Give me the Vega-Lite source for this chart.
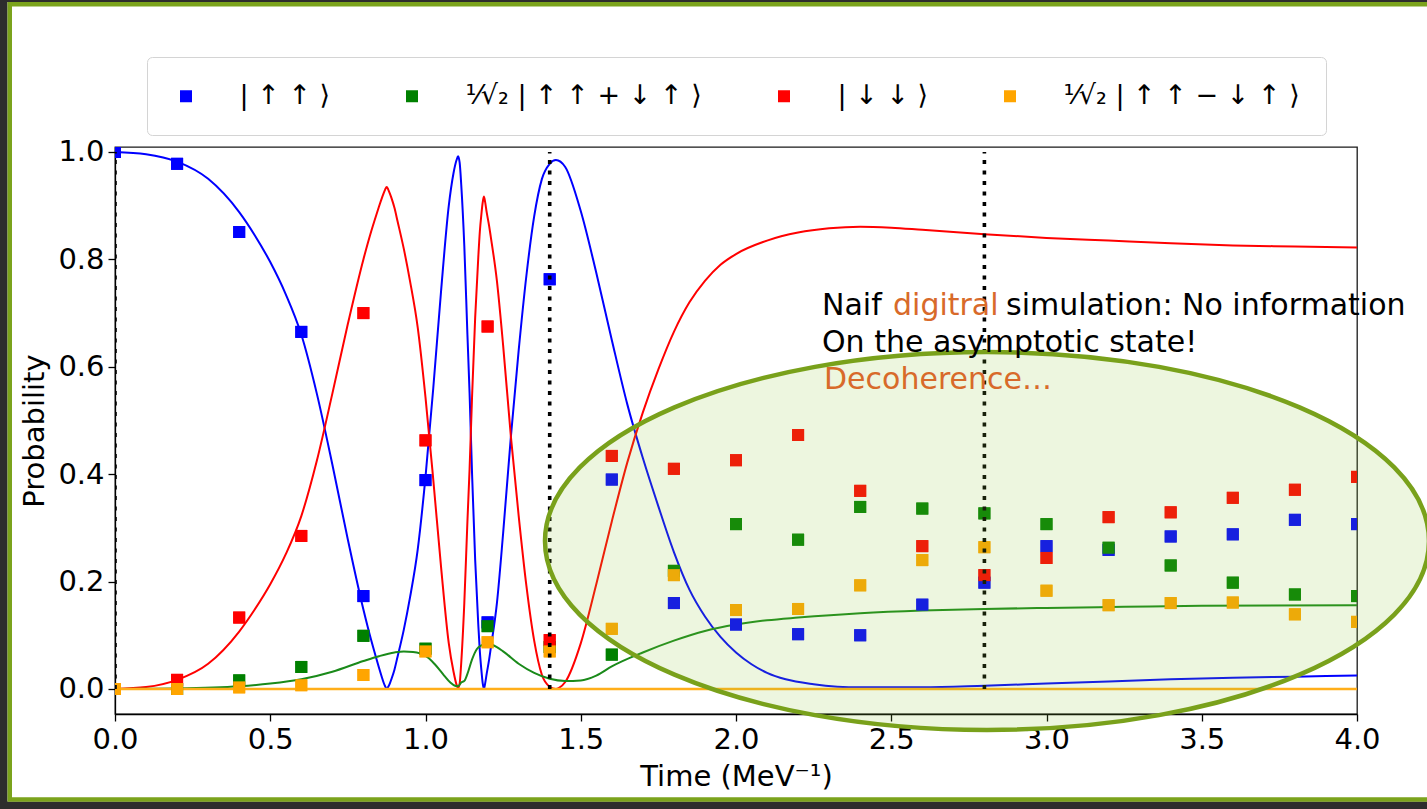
{
  "$schema": "https://vega.github.io/schema/vega-lite/v6.json",
  "width": 1242,
  "height": 567,
  "autosize": {"type": "none"},
  "padding": {"left": 115, "top": 147, "right": 70, "bottom": 95},
  "background": "white",
  "config": {
    "font": "DejaVu Sans",
    "view": {"stroke": "#1a1a1a", "strokeWidth": 1.3},
    "axis": {
      "labelFont": "DejaVu Sans", "labelFontSize": 29, "labelColor": "black",
      "titleFont": "DejaVu Sans", "titleFontSize": 29, "titleFontWeight": "normal", "titleColor": "black",
      "tickColor": "black", "tickSize": 7, "tickWidth": 1.3,
      "domainColor": "black", "domainWidth": 1.3, "grid": false,
      "labelPadding": 4, "titlePadding": 8, "labelFlush": false, "labelOverlap": false
    },
    "legend": {"layout": {"top": {"anchor": "middle"}}}
  },
  "datasets": {
    "curves": [
      {"t":0,"p":1.0,"state":"uu"},{"t":0.1,"p":0.996,"state":"uu"},{"t":0.2,"p":0.982,"state":"uu"},{"t":0.3,"p":0.95,"state":"uu"},{"t":0.4,"p":0.888,"state":"uu"},{"t":0.45,"p":0.845,"state":"uu"},{"t":0.5,"p":0.795,"state":"uu"},{"t":0.55,"p":0.735,"state":"uu"},{"t":0.6,"p":0.66,"state":"uu"},{"t":0.65,"p":0.55,"state":"uu"},{"t":0.7,"p":0.418,"state":"uu"},{"t":0.75,"p":0.278,"state":"uu"},{"t":0.8,"p":0.148,"state":"uu"},{"t":0.825,"p":0.091,"state":"uu"},{"t":0.84,"p":0.06,"state":"uu"},{"t":0.85,"p":0.04,"state":"uu"},{"t":0.86,"p":0.021,"state":"uu"},{"t":0.865,"p":0.012,"state":"uu"},{"t":0.87,"p":0.005,"state":"uu"},{"t":0.875,"p":0.0,"state":"uu"},{"t":0.88,"p":0.004,"state":"uu"},{"t":0.885,"p":0.01,"state":"uu"},{"t":0.89,"p":0.018,"state":"uu"},{"t":0.9,"p":0.036,"state":"uu"},{"t":0.91,"p":0.06,"state":"uu"},{"t":0.93,"p":0.11,"state":"uu"},{"t":0.95,"p":0.17,"state":"uu"},{"t":0.975,"p":0.26,"state":"uu"},{"t":1.0,"p":0.395,"state":"uu"},{"t":1.025,"p":0.56,"state":"uu"},{"t":1.05,"p":0.74,"state":"uu"},{"t":1.075,"p":0.9,"state":"uu"},{"t":1.09,"p":0.96,"state":"uu"},{"t":1.1,"p":0.985,"state":"uu"},{"t":1.105,"p":0.992,"state":"uu"},{"t":1.11,"p":0.98,"state":"uu"},{"t":1.115,"p":0.94,"state":"uu"},{"t":1.125,"p":0.825,"state":"uu"},{"t":1.135,"p":0.66,"state":"uu"},{"t":1.142,"p":0.55,"state":"uu"},{"t":1.15,"p":0.4,"state":"uu"},{"t":1.16,"p":0.24,"state":"uu"},{"t":1.17,"p":0.12,"state":"uu"},{"t":1.175,"p":0.07,"state":"uu"},{"t":1.18,"p":0.035,"state":"uu"},{"t":1.184,"p":0.012,"state":"uu"},{"t":1.188,"p":0.0,"state":"uu"},{"t":1.192,"p":0.01,"state":"uu"},{"t":1.197,"p":0.028,"state":"uu"},{"t":1.205,"p":0.055,"state":"uu"},{"t":1.21,"p":0.075,"state":"uu"},{"t":1.23,"p":0.16,"state":"uu"},{"t":1.25,"p":0.29,"state":"uu"},{"t":1.275,"p":0.47,"state":"uu"},{"t":1.3,"p":0.63,"state":"uu"},{"t":1.325,"p":0.77,"state":"uu"},{"t":1.35,"p":0.88,"state":"uu"},{"t":1.375,"p":0.95,"state":"uu"},{"t":1.4,"p":0.978,"state":"uu"},{"t":1.42,"p":0.985,"state":"uu"},{"t":1.45,"p":0.972,"state":"uu"},{"t":1.5,"p":0.89,"state":"uu"},{"t":1.55,"p":0.775,"state":"uu"},{"t":1.6,"p":0.65,"state":"uu"},{"t":1.65,"p":0.53,"state":"uu"},{"t":1.7,"p":0.43,"state":"uu"},{"t":1.75,"p":0.34,"state":"uu"},{"t":1.8,"p":0.255,"state":"uu"},{"t":1.85,"p":0.185,"state":"uu"},{"t":1.9,"p":0.135,"state":"uu"},{"t":1.95,"p":0.097,"state":"uu"},{"t":2.0,"p":0.068,"state":"uu"},{"t":2.05,"p":0.046,"state":"uu"},{"t":2.1,"p":0.03,"state":"uu"},{"t":2.16,"p":0.018,"state":"uu"},{"t":2.25,"p":0.009,"state":"uu"},{"t":2.4,"p":0.003,"state":"uu"},{"t":2.6,"p":0.003,"state":"uu"},{"t":2.8,"p":0.006,"state":"uu"},{"t":3.0,"p":0.01,"state":"uu"},{"t":3.2,"p":0.014,"state":"uu"},{"t":3.4,"p":0.018,"state":"uu"},{"t":3.6,"p":0.021,"state":"uu"},{"t":3.8,"p":0.023,"state":"uu"},{"t":4.0,"p":0.025,"state":"uu"},
      {"t":0,"p":0,"state":"dd"},{"t":0.1,"p":0.0035,"state":"dd"},{"t":0.2,"p":0.017,"state":"dd"},{"t":0.3,"p":0.047,"state":"dd"},{"t":0.4,"p":0.107,"state":"dd"},{"t":0.45,"p":0.148,"state":"dd"},{"t":0.5,"p":0.195,"state":"dd"},{"t":0.55,"p":0.251,"state":"dd"},{"t":0.6,"p":0.322,"state":"dd"},{"t":0.65,"p":0.425,"state":"dd"},{"t":0.7,"p":0.55,"state":"dd"},{"t":0.75,"p":0.68,"state":"dd"},{"t":0.8,"p":0.8,"state":"dd"},{"t":0.825,"p":0.852,"state":"dd"},{"t":0.84,"p":0.88,"state":"dd"},{"t":0.85,"p":0.898,"state":"dd"},{"t":0.86,"p":0.915,"state":"dd"},{"t":0.865,"p":0.923,"state":"dd"},{"t":0.87,"p":0.93,"state":"dd"},{"t":0.875,"p":0.935,"state":"dd"},{"t":0.88,"p":0.93,"state":"dd"},{"t":0.885,"p":0.923,"state":"dd"},{"t":0.89,"p":0.915,"state":"dd"},{"t":0.9,"p":0.896,"state":"dd"},{"t":0.91,"p":0.871,"state":"dd"},{"t":0.93,"p":0.82,"state":"dd"},{"t":0.95,"p":0.76,"state":"dd"},{"t":0.975,"p":0.673,"state":"dd"},{"t":1.0,"p":0.543,"state":"dd"},{"t":1.025,"p":0.39,"state":"dd"},{"t":1.05,"p":0.228,"state":"dd"},{"t":1.075,"p":0.085,"state":"dd"},{"t":1.09,"p":0.033,"state":"dd"},{"t":1.1,"p":0.008,"state":"dd"},{"t":1.105,"p":0.002,"state":"dd"},{"t":1.11,"p":0.01,"state":"dd"},{"t":1.115,"p":0.048,"state":"dd"},{"t":1.125,"p":0.16,"state":"dd"},{"t":1.135,"p":0.312,"state":"dd"},{"t":1.142,"p":0.41,"state":"dd"},{"t":1.15,"p":0.545,"state":"dd"},{"t":1.16,"p":0.692,"state":"dd"},{"t":1.17,"p":0.804,"state":"dd"},{"t":1.175,"p":0.852,"state":"dd"},{"t":1.18,"p":0.884,"state":"dd"},{"t":1.184,"p":0.905,"state":"dd"},{"t":1.188,"p":0.917,"state":"dd"},{"t":1.192,"p":0.907,"state":"dd"},{"t":1.197,"p":0.888,"state":"dd"},{"t":1.205,"p":0.862,"state":"dd"},{"t":1.21,"p":0.843,"state":"dd"},{"t":1.23,"p":0.76,"state":"dd"},{"t":1.25,"p":0.64,"state":"dd"},{"t":1.275,"p":0.47,"state":"dd"},{"t":1.3,"p":0.323,"state":"dd"},{"t":1.325,"p":0.192,"state":"dd"},{"t":1.35,"p":0.09,"state":"dd"},{"t":1.375,"p":0.026,"state":"dd"},{"t":1.4,"p":0.004,"state":"dd"},{"t":1.41,"p":0.001,"state":"dd"},{"t":1.42,"p":0.0,"state":"dd"},{"t":1.43,"p":0.002,"state":"dd"},{"t":1.45,"p":0.013,"state":"dd"},{"t":1.5,"p":0.085,"state":"dd"},{"t":1.55,"p":0.195,"state":"dd"},{"t":1.6,"p":0.312,"state":"dd"},{"t":1.65,"p":0.422,"state":"dd"},{"t":1.7,"p":0.515,"state":"dd"},{"t":1.75,"p":0.595,"state":"dd"},{"t":1.8,"p":0.665,"state":"dd"},{"t":1.85,"p":0.72,"state":"dd"},{"t":1.9,"p":0.76,"state":"dd"},{"t":1.95,"p":0.79,"state":"dd"},{"t":2.0,"p":0.81,"state":"dd"},{"t":2.1,"p":0.835,"state":"dd"},{"t":2.2,"p":0.85,"state":"dd"},{"t":2.3,"p":0.858,"state":"dd"},{"t":2.4,"p":0.861,"state":"dd"},{"t":2.5,"p":0.859,"state":"dd"},{"t":2.6,"p":0.855,"state":"dd"},{"t":2.8,"p":0.847,"state":"dd"},{"t":3.0,"p":0.84,"state":"dd"},{"t":3.2,"p":0.835,"state":"dd"},{"t":3.4,"p":0.83,"state":"dd"},{"t":3.6,"p":0.826,"state":"dd"},{"t":3.8,"p":0.824,"state":"dd"},{"t":4.0,"p":0.822,"state":"dd"},
      {"t":0,"p":0,"state":"sym"},{"t":0.2,"p":0.001,"state":"sym"},{"t":0.4,"p":0.005,"state":"sym"},{"t":0.5,"p":0.01,"state":"sym"},{"t":0.6,"p":0.018,"state":"sym"},{"t":0.7,"p":0.032,"state":"sym"},{"t":0.8,"p":0.052,"state":"sym"},{"t":0.85,"p":0.061,"state":"sym"},{"t":0.9,"p":0.068,"state":"sym"},{"t":0.93,"p":0.07,"state":"sym"},{"t":0.96,"p":0.069,"state":"sym"},{"t":1.0,"p":0.062,"state":"sym"},{"t":1.03,"p":0.046,"state":"sym"},{"t":1.06,"p":0.025,"state":"sym"},{"t":1.08,"p":0.012,"state":"sym"},{"t":1.095,"p":0.006,"state":"sym"},{"t":1.105,"p":0.005,"state":"sym"},{"t":1.115,"p":0.012,"state":"sym"},{"t":1.125,"p":0.015,"state":"sym"},{"t":1.135,"p":0.028,"state":"sym"},{"t":1.15,"p":0.055,"state":"sym"},{"t":1.165,"p":0.074,"state":"sym"},{"t":1.18,"p":0.081,"state":"sym"},{"t":1.2,"p":0.084,"state":"sym"},{"t":1.22,"p":0.081,"state":"sym"},{"t":1.25,"p":0.07,"state":"sym"},{"t":1.3,"p":0.047,"state":"sym"},{"t":1.35,"p":0.03,"state":"sym"},{"t":1.4,"p":0.019,"state":"sym"},{"t":1.45,"p":0.015,"state":"sym"},{"t":1.5,"p":0.016,"state":"sym"},{"t":1.55,"p":0.025,"state":"sym"},{"t":1.6,"p":0.042,"state":"sym"},{"t":1.7,"p":0.068,"state":"sym"},{"t":1.8,"p":0.09,"state":"sym"},{"t":1.9,"p":0.108,"state":"sym"},{"t":2.0,"p":0.12,"state":"sym"},{"t":2.1,"p":0.128,"state":"sym"},{"t":2.2,"p":0.133,"state":"sym"},{"t":2.4,"p":0.141,"state":"sym"},{"t":2.6,"p":0.146,"state":"sym"},{"t":2.8,"p":0.149,"state":"sym"},{"t":3.0,"p":0.151,"state":"sym"},{"t":3.25,"p":0.153,"state":"sym"},{"t":3.5,"p":0.155,"state":"sym"},{"t":4.0,"p":0.156,"state":"sym"},
      {"t":0,"p":0,"state":"anti"},{"t":4.0,"p":0,"state":"anti"}
    ],
    "sim": [
      {"t":0.0,"p":1.0,"state":"uu"},{"t":0.2,"p":0.978,"state":"uu"},{"t":0.4,"p":0.851,"state":"uu"},{"t":0.6,"p":0.665,"state":"uu"},{"t":0.8,"p":0.173,"state":"uu"},{"t":1.0,"p":0.389,"state":"uu"},{"t":1.2,"p":0.124,"state":"uu"},{"t":1.4,"p":0.763,"state":"uu"},{"t":1.6,"p":0.39,"state":"uu"},{"t":1.8,"p":0.16,"state":"uu"},{"t":2.0,"p":0.12,"state":"uu"},{"t":2.2,"p":0.102,"state":"uu"},{"t":2.4,"p":0.1,"state":"uu"},{"t":2.6,"p":0.157,"state":"uu"},{"t":2.8,"p":0.198,"state":"uu"},{"t":3.0,"p":0.266,"state":"uu"},{"t":3.2,"p":0.259,"state":"uu"},{"t":3.4,"p":0.284,"state":"uu"},{"t":3.6,"p":0.288,"state":"uu"},{"t":3.8,"p":0.315,"state":"uu"},{"t":4.0,"p":0.307,"state":"uu"},
      {"t":0.0,"p":0.0,"state":"sym"},{"t":0.2,"p":0.0,"state":"sym"},{"t":0.4,"p":0.016,"state":"sym"},{"t":0.6,"p":0.041,"state":"sym"},{"t":0.8,"p":0.099,"state":"sym"},{"t":1.0,"p":0.075,"state":"sym"},{"t":1.2,"p":0.117,"state":"sym"},{"t":1.4,"p":0.078,"state":"sym"},{"t":1.6,"p":0.064,"state":"sym"},{"t":1.8,"p":0.22,"state":"sym"},{"t":2.0,"p":0.307,"state":"sym"},{"t":2.2,"p":0.278,"state":"sym"},{"t":2.4,"p":0.339,"state":"sym"},{"t":2.6,"p":0.336,"state":"sym"},{"t":2.8,"p":0.327,"state":"sym"},{"t":3.0,"p":0.307,"state":"sym"},{"t":3.2,"p":0.263,"state":"sym"},{"t":3.4,"p":0.23,"state":"sym"},{"t":3.6,"p":0.198,"state":"sym"},{"t":3.8,"p":0.176,"state":"sym"},{"t":4.0,"p":0.173,"state":"sym"},
      {"t":0.0,"p":0.0,"state":"dd"},{"t":0.2,"p":0.017,"state":"dd"},{"t":0.4,"p":0.133,"state":"dd"},{"t":0.6,"p":0.285,"state":"dd"},{"t":0.8,"p":0.7,"state":"dd"},{"t":1.0,"p":0.463,"state":"dd"},{"t":1.2,"p":0.675,"state":"dd"},{"t":1.4,"p":0.091,"state":"dd"},{"t":1.6,"p":0.434,"state":"dd"},{"t":1.8,"p":0.41,"state":"dd"},{"t":2.0,"p":0.426,"state":"dd"},{"t":2.2,"p":0.473,"state":"dd"},{"t":2.4,"p":0.369,"state":"dd"},{"t":2.6,"p":0.266,"state":"dd"},{"t":2.8,"p":0.212,"state":"dd"},{"t":3.0,"p":0.244,"state":"dd"},{"t":3.2,"p":0.32,"state":"dd"},{"t":3.4,"p":0.329,"state":"dd"},{"t":3.6,"p":0.356,"state":"dd"},{"t":3.8,"p":0.371,"state":"dd"},{"t":4.0,"p":0.395,"state":"dd"},
      {"t":0.0,"p":0.0,"state":"anti"},{"t":0.2,"p":0.0,"state":"anti"},{"t":0.4,"p":0.003,"state":"anti"},{"t":0.6,"p":0.007,"state":"anti"},{"t":0.8,"p":0.026,"state":"anti"},{"t":1.0,"p":0.07,"state":"anti"},{"t":1.2,"p":0.087,"state":"anti"},{"t":1.4,"p":0.07,"state":"anti"},{"t":1.6,"p":0.112,"state":"anti"},{"t":1.8,"p":0.212,"state":"anti"},{"t":2.0,"p":0.147,"state":"anti"},{"t":2.2,"p":0.149,"state":"anti"},{"t":2.4,"p":0.193,"state":"anti"},{"t":2.6,"p":0.24,"state":"anti"},{"t":2.8,"p":0.264,"state":"anti"},{"t":3.0,"p":0.183,"state":"anti"},{"t":3.2,"p":0.156,"state":"anti"},{"t":3.4,"p":0.16,"state":"anti"},{"t":3.6,"p":0.161,"state":"anti"},{"t":3.8,"p":0.139,"state":"anti"},{"t":4.0,"p":0.125,"state":"anti"}
    ],
    "vlines": [{"t": 0}, {"t": 1.4}, {"t": 2.8}],
    "notes": [
      {"t": 2.27697, "p": 0.69643, "text": "Naif ", "kind": "plain"},
      {"t": 2.50564, "p": 0.69643, "text": "digitral", "kind": "emph"},
      {"t": 2.86957, "p": 0.69643, "text": "simulation: No information", "kind": "plain"},
      {"t": 2.27697, "p": 0.62753, "text": "On the asymptotic state!", "kind": "plain"},
      {"t": 2.28341, "p": 0.55862, "text": "Decoherence…", "kind": "emph"}
    ]
  },
  "layer": [
    {
      "data": {"name": "sim"},
      "mark": {"type": "point", "shape": "square", "filled": true, "size": 144, "opacity": 1, "strokeWidth": 0, "clip": true},
      "encoding": {
        "x": {"field": "t", "type": "quantitative", "title": "Time (MeV⁻¹)",
              "scale": {"domain": [0, 4], "nice": false, "zero": false},
              "axis": {"values": [0, 0.5, 1, 1.5, 2, 2.5, 3, 3.5, 4], "format": ".1f"}},
        "y": {"field": "p", "type": "quantitative", "title": "Probability",
              "scale": {"domain": [-0.0466, 1.0093], "nice": false, "zero": false},
              "axis": {"values": [0, 0.2, 0.4, 0.6, 0.8, 1.0], "format": ".1f"}},
        "color": {"field": "state", "type": "nominal",
                  "scale": {"domain": ["uu", "sym", "dd", "anti"], "range": ["#0000ff", "#008000", "#ff0000", "#ffa500"]},
                  "legend": {"title": null, "orient": "top", "offset": 12,
                             "direction": "horizontal", "columns": 4,
                             "padding": 25.5, "cornerRadius": 5, "strokeColor": "#d4d4d4", "fillColor": "white",
                             "symbolType": "square", "symbolSize": 144, "symbolStrokeWidth": 0, "symbolOpacity": 1,
                             "labelFont": "DejaVu Sans", "labelFontSize": 27, "labelColor": "black",
                             "labelOffset": 40, "columnPadding": 68, "labelLimit": 500,
                             "labelExpr": "datum.label == 'uu' ? '| ↑ ↑ ⟩' : datum.label == 'sym' ? '¹⁄√₂ | ↑ ↑ + ↓ ↑ ⟩' : datum.label == 'dd' ? '| ↓ ↓ ⟩' : '¹⁄√₂ | ↑ ↑ − ↓ ↑ ⟩'"}}
      }
    },
    {
      "data": {"name": "curves"},
      "transform": [{"filter": "datum.state == 'uu'"}],
      "mark": {"type": "line", "interpolate": "monotone", "strokeWidth": 2, "color": "#0000ff", "clip": true},
      "encoding": {"x": {"field": "t", "type": "quantitative", "title": "Time (MeV⁻¹)"}, "y": {"field": "p", "type": "quantitative", "title": "Probability"}}
    },
    {
      "data": {"name": "curves"},
      "transform": [{"filter": "datum.state == 'dd'"}],
      "mark": {"type": "line", "interpolate": "monotone", "strokeWidth": 2, "color": "#ff0000", "clip": true},
      "encoding": {"x": {"field": "t", "type": "quantitative", "title": "Time (MeV⁻¹)"}, "y": {"field": "p", "type": "quantitative", "title": "Probability"}}
    },
    {
      "data": {"name": "curves"},
      "transform": [{"filter": "datum.state == 'sym'"}],
      "mark": {"type": "line", "interpolate": "monotone", "strokeWidth": 2, "color": "#1a8a1a", "clip": true},
      "encoding": {"x": {"field": "t", "type": "quantitative", "title": "Time (MeV⁻¹)"}, "y": {"field": "p", "type": "quantitative", "title": "Probability"}}
    },
    {
      "data": {"name": "curves"},
      "transform": [{"filter": "datum.state == 'anti'"}],
      "mark": {"type": "line", "strokeWidth": 2.5, "color": "#ffae1a", "clip": true},
      "encoding": {"x": {"field": "t", "type": "quantitative", "title": "Time (MeV⁻¹)"}, "y": {"field": "p", "type": "quantitative", "title": "Probability"}}
    },
    {
      "data": {"name": "sim"},
      "mark": {"type": "point", "shape": "square", "filled": true, "size": 144, "opacity": 1, "strokeWidth": 0, "clip": true},
      "encoding": {
        "x": {"field": "t", "type": "quantitative", "title": "Time (MeV⁻¹)"},
        "y": {"field": "p", "type": "quantitative", "title": "Probability"},
        "color": {"field": "state", "type": "nominal"}
      }
    },
    {
      "data": {"name": "vlines"},
      "mark": {"type": "rule", "color": "black", "strokeWidth": 3.6, "strokeDash": [4, 6.5], "clip": true},
      "encoding": {
        "x": {"field": "t", "type": "quantitative", "title": "Time (MeV⁻¹)"},
        "y": {"datum": 0, "type": "quantitative"},
        "y2": {"datum": 1}
      }
    },
    {
      "data": {"values": [{}]},
      "mark": {"type": "point", "shape": "M-1,0C-1,-0.2362,-0.5523,-0.4276,0,-0.4276C0.5523,-0.4276,1,-0.2362,1,0C1,0.2362,0.5523,0.4276,0,0.4276C-0.5523,0.4276,-1,0.2362,-1,0Z",
               "size": 781456, "filled": true, "fill": "#8fc63a", "fillOpacity": 0.16, "stroke": "#79a11b", "strokeWidth": 4.5, "strokeOpacity": 1, "opacity": 1, "clip": false},
      "encoding": {
        "x": {"datum": 2.80837, "type": "quantitative"},
        "y": {"datum": 0.27555, "type": "quantitative"}
      }
    },
    {
      "data": {"name": "notes"},
      "transform": [{"filter": "datum.kind == 'plain'"}],
      "mark": {"type": "text", "align": "left", "baseline": "alphabetic", "font": "DejaVu Sans", "fontSize": 30, "color": "black", "clip": false},
      "encoding": {
        "x": {"field": "t", "type": "quantitative", "title": "Time (MeV⁻¹)"},
        "y": {"field": "p", "type": "quantitative", "title": "Probability"},
        "text": {"field": "text"}
      }
    },
    {
      "data": {"name": "notes"},
      "transform": [{"filter": "datum.kind == 'emph'"}],
      "mark": {"type": "text", "align": "left", "baseline": "alphabetic", "font": "DejaVu Sans", "fontSize": 30, "color": "#d86a2a", "clip": false},
      "encoding": {
        "x": {"field": "t", "type": "quantitative", "title": "Time (MeV⁻¹)"},
        "y": {"field": "p", "type": "quantitative", "title": "Probability"},
        "text": {"field": "text"}
      }
    },
    {
      "data": {"values": [{}]},
      "mark": {"type": "rect", "fillOpacity": 0, "stroke": "#2d2d2d", "strokeWidth": 16, "clip": false},
      "encoding": {
        "x": {"datum": -0.37198, "type": "quantitative"},
        "x2": {"datum": 4.2834},
        "y": {"datum": 1.29423, "type": "quantitative"},
        "y2": {"datum": -0.22448}
      }
    },
    {
      "data": {"values": [{}]},
      "mark": {"type": "rect", "fillOpacity": 0, "stroke": "#7ba31c", "strokeWidth": 4.5, "clip": false},
      "encoding": {
        "x": {"datum": -0.33897, "type": "quantitative"},
        "x2": {"datum": 4.2834},
        "y": {"datum": 1.27514, "type": "quantitative"},
        "y2": {"datum": -0.20585}
      }
    }
  ]
}
